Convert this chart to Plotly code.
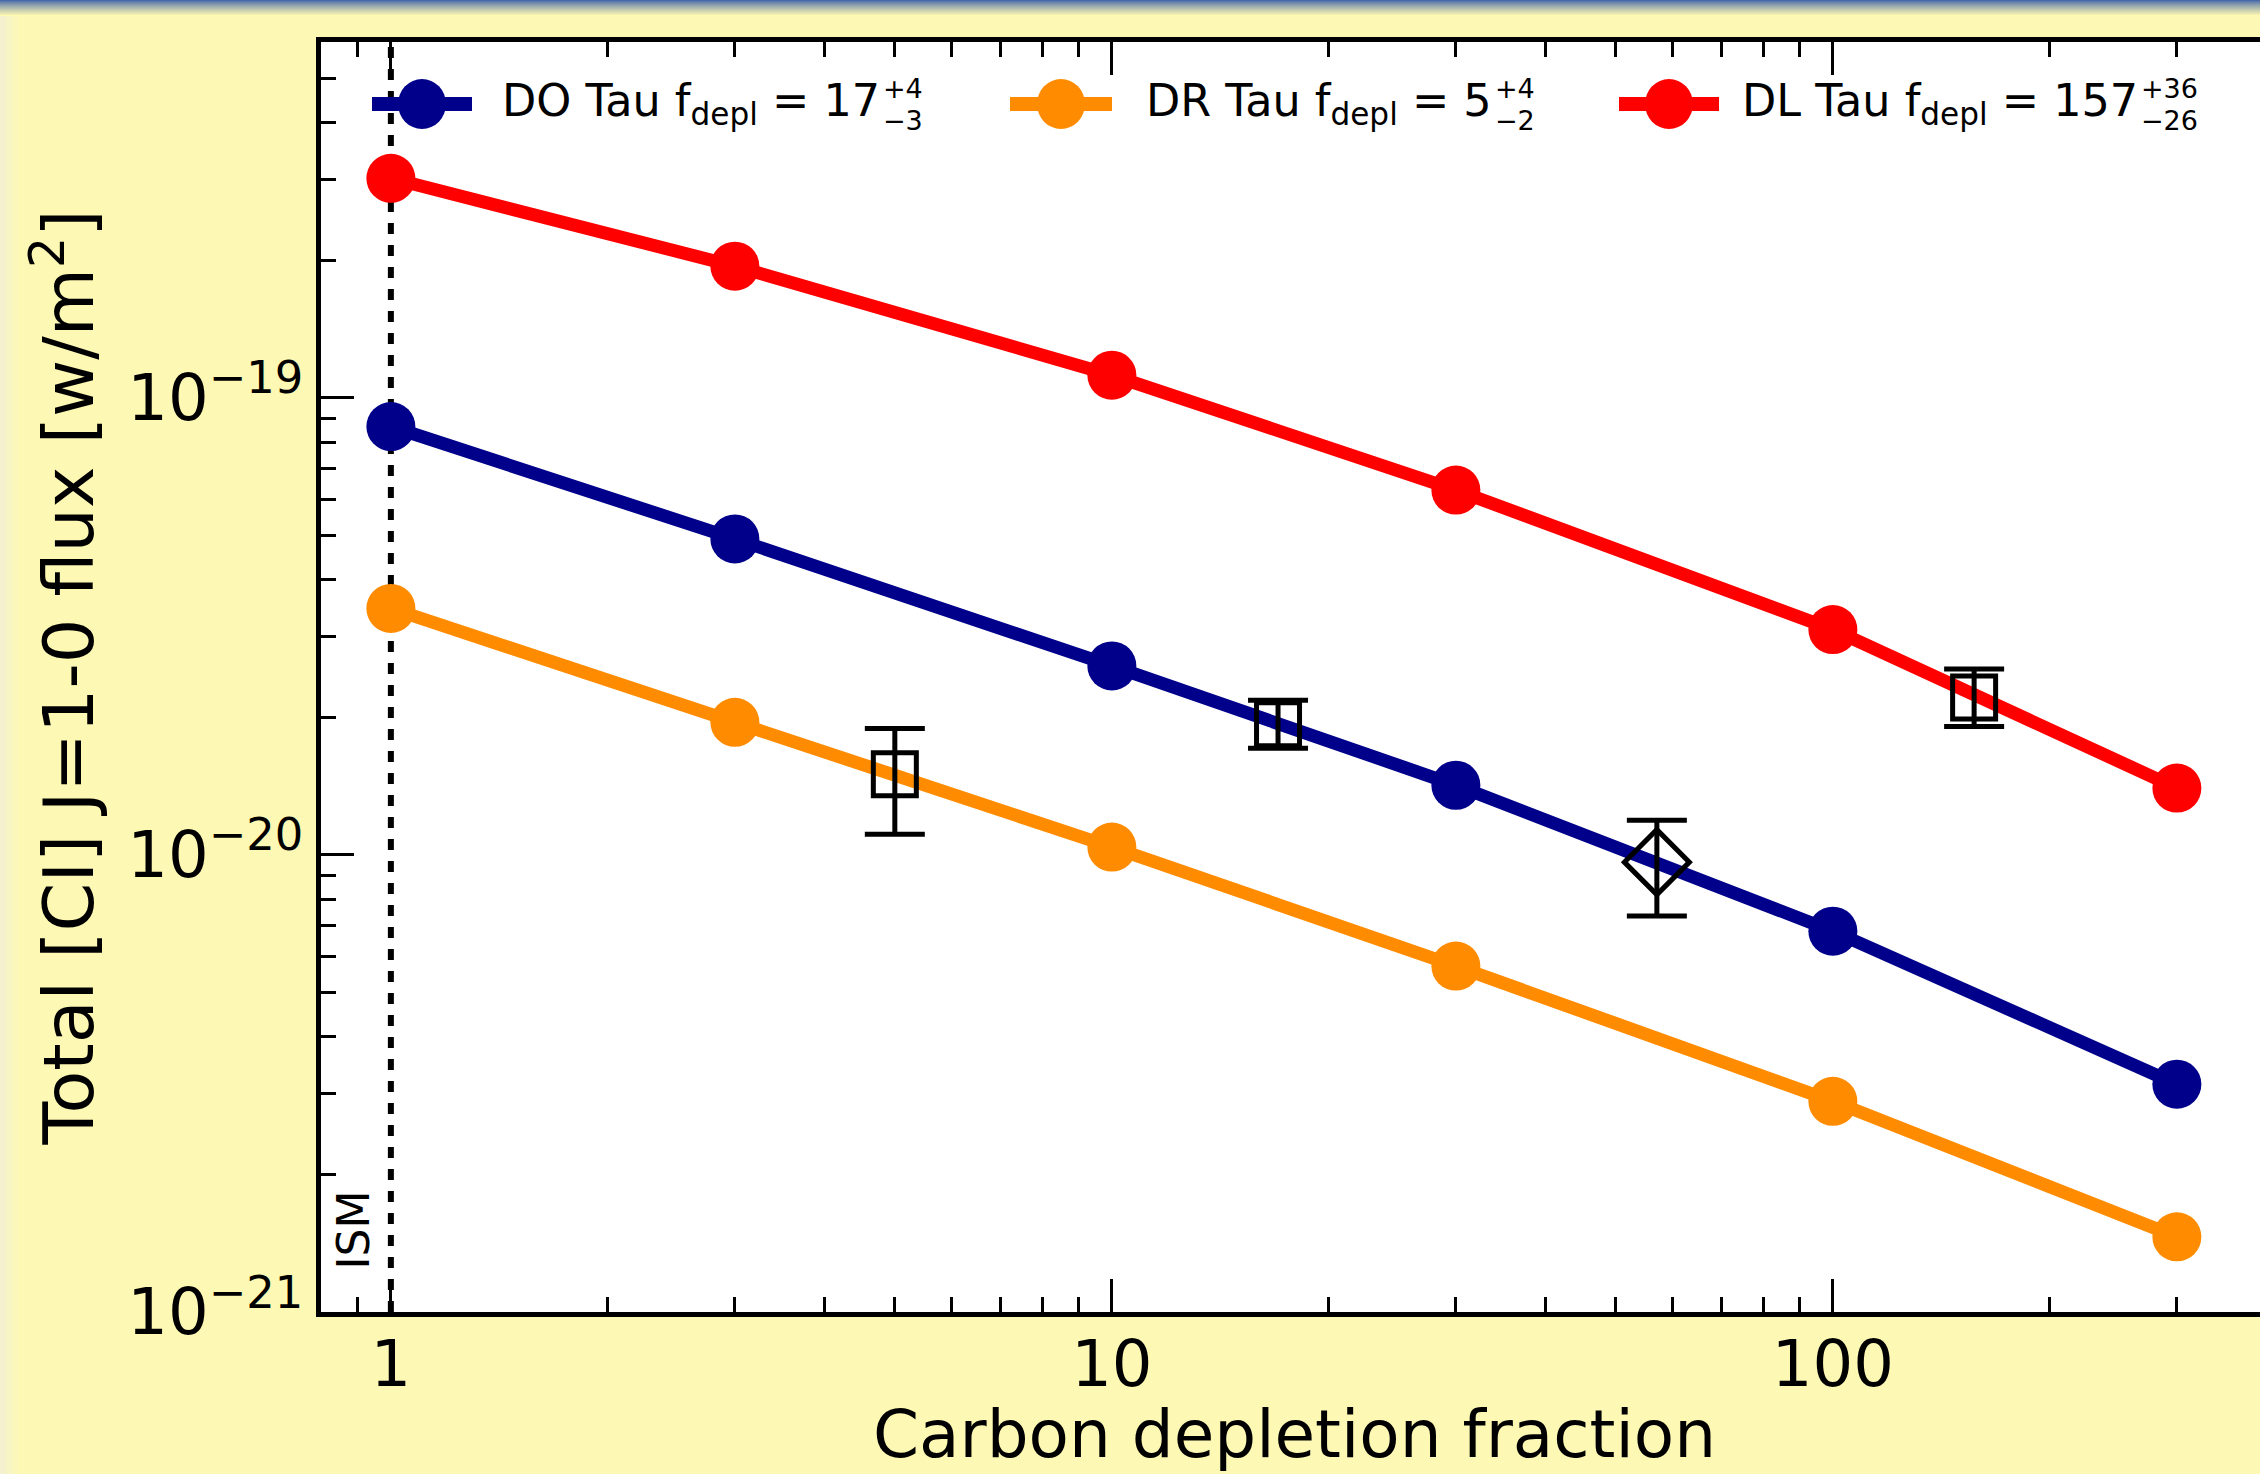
import math
import plotly.graph_objects as go

# ---------------- data ----------------
depletion = [1, 3, 10, 30, 100, 300]
flux_do_tau = [8.65e-20, 4.91e-20, 2.59e-20, 1.42e-20, 6.81e-21, 3.15e-21]
flux_dr_tau = [3.46e-20, 1.95e-20, 1.04e-20, 5.71e-21, 2.89e-21, 1.46e-21]
flux_dl_tau = [3.02e-19, 1.94e-19, 1.12e-19, 6.28e-20, 3.11e-20, 1.40e-20]

obs_depl = [5, 17, 57, 157]
obs_flux = [1.50e-20, 1.93e-20, 9.64e-21, 2.21e-20]
obs_flux_hi = [1.89e-20, 2.18e-20, 1.19e-20, 2.55e-20]
obs_flux_lo = [1.11e-20, 1.71e-20, 7.35e-21, 1.91e-20]
obs_symbols = ["square", "square", "diamond", "square"]

series_names = ["DO Tau", "DR Tau", "DL Tau"]
series_best = ["17", "5", "157"]
series_plus = ["+4", "+4", "+36"]
series_minus = ["−3", "−2", "−26"]
series_colors = ["#00008B", "#FF8C00", "#FF0000"]

x_tickvals = [1, 10, 100]
x_ticktext = ["1", "10", "100"]
y_tickvals = [1e-21, 1e-20, 1e-19]
y_ticktext = ["10<sup>−21</sup>", "10<sup>−20</sup>", "10<sup>−19</sup>"]

ism_label = "ISM"
ism_depletion = 1
x_title = "Carbon depletion fraction"
y_title = "Total [CI] J=1-0 flux [w/m<sup>2</sup>]"

# ---------------- layout geometry ----------------
W, H = 2260, 1474
L, T = 321, 42
BOT = 1312
PW, PH = W - L, BOT - T
FONT = "DejaVu Sans"
BG = "#FDF8B3"

x_lo = math.log10(0.8)
x_hi = x_lo + PW / 721.0
y_lo, y_hi = -21, math.log10(6e-19)

x_minor = [m * 10 ** e for e in range(-1, 3) for m in range(2, 10)
           if x_lo <= math.log10(m * 10 ** e) <= x_hi]
y_minor = [m * 10 ** e for e in range(-21, -18) for m in range(2, 10)
           if m * 10 ** e <= 6e-19]


def px(xp):
    return (xp - L) / PW


def py(yp):
    return (BOT - yp) / PH


fig = go.Figure()

series_flux = [flux_do_tau, flux_dr_tau, flux_dl_tau]
for name, flux, col in zip(series_names, series_flux, series_colors):
    fig.add_trace(go.Scatter(
        x=depletion, y=flux, mode="lines+markers", name=name,
        line=dict(color=col, width=13),
        marker=dict(size=49, color=col, opacity=1),
        showlegend=False,
    ))

fig.add_trace(go.Scatter(
    x=obs_depl, y=obs_flux, mode="markers", name="observed",
    marker=dict(symbol=obs_symbols, size=[43, 43, 50, 43], opacity=1,
                color="rgba(0,0,0,0)",
                line=dict(width=5, color="black")),
    error_y=dict(type="data", symmetric=False,
                 array=[h - f for h, f in zip(obs_flux_hi, obs_flux)],
                 arrayminus=[f - l for f, l in zip(obs_flux, obs_flux_lo)],
                 thickness=5, width=30, color="black"),
    showlegend=False,
))

shapes = []
# slide background: blue gradient band at top, pale strip at left
top_c = (70, 104, 168)
bot_c = (253, 248, 179)
for i in range(16):
    t = (i / 15.0) ** 0.8
    c = tuple(round(top_c[k] + (bot_c[k] - top_c[k]) * t) for k in range(3))
    shapes.append(dict(type="rect", xref="paper", yref="paper",
                       x0=px(0), x1=px(W), y0=py(i + 1), y1=py(i),
                       fillcolor="rgb(%d,%d,%d)" % c, line=dict(width=0),
                       layer="below"))
for i, c in enumerate([(244, 242, 206), (248, 245, 196), (251, 247, 187)]):
    shapes.append(dict(type="rect", xref="paper", yref="paper",
                       x0=px(i * 6), x1=px(i * 6 + 6), y0=py(H), y1=py(16),
                       fillcolor="rgb(%d,%d,%d)" % c, line=dict(width=0),
                       layer="below"))

# ISM reference line
shapes.append(dict(type="line", xref="x", yref="paper", x0=ism_depletion,
                   x1=ism_depletion, y0=0, y1=1,
                   line=dict(color="black", width=6, dash="11px,11px"),
                   layer="below"))

annotations = []
annotations.append(dict(text=ism_label, xref="paper", yref="paper",
                        x=px(353), y=py(1272), xanchor="center",
                        yanchor="bottom", textangle=-90, showarrow=False,
                        font=dict(family=FONT, size=44, color="black")))

# x-axis title (annotation so it can sit close to the bottom edge)
annotations.append(dict(text=x_title, xref="paper", yref="paper",
                        x=px(1294), y=py(1394), xanchor="center",
                        yanchor="top", showarrow=False,
                        font=dict(family=FONT, size=66, color="black")))

# manual legend (line + large marker + label with stacked errors)
leg_line = [(372, 472), (1010, 1112), (1619, 1719)]
leg_script_x = [882, 1494, 2140]
leg_y = 104
for i in range(3):
    x0, x1 = leg_line[i]
    xc = (x0 + x1) / 2
    col = series_colors[i]
    shapes.append(dict(type="line", xref="paper", yref="paper",
                       x0=px(x0), x1=px(x1), y0=py(leg_y), y1=py(leg_y),
                       line=dict(color=col, width=14)))
    shapes.append(dict(type="circle", xref="paper", yref="paper",
                       xsizemode="pixel", ysizemode="pixel",
                       xanchor=px(xc), yanchor=py(leg_y),
                       x0=-24, x1=24, y0=-25, y1=25,
                       fillcolor=col, line=dict(width=0)))
    annotations.append(dict(
        text="%s f<sub>depl</sub> = %s" % (series_names[i], series_best[i]),
        xref="paper", yref="paper", x=px(leg_script_x[i]), y=py(leg_y),
        xanchor="right", yanchor="middle", showarrow=False,
        font=dict(family=FONT, size=44.5, color="black")))
    annotations.append(dict(
        text=series_plus[i], xref="paper", yref="paper",
        x=px(leg_script_x[i]), y=py(88.5), xanchor="left", yanchor="middle",
        borderpad=0, showarrow=False,
        font=dict(family=FONT, size=27, color="black")))
    annotations.append(dict(
        text=series_minus[i], xref="paper", yref="paper",
        x=px(leg_script_x[i]), y=py(120.5), xanchor="left", yanchor="middle",
        borderpad=0, showarrow=False,
        font=dict(family=FONT, size=27, color="black")))

axis_common = dict(
    type="log", showgrid=False, zeroline=False, ticks="inside",
    tickcolor="black", tickwidth=2.5, automargin=False,
)

fig.update_layout(
    width=W, height=H,
    margin=dict(l=L, r=0, t=T, b=H - BOT, pad=0),
    paper_bgcolor=BG, plot_bgcolor="white",
    font=dict(family=FONT, color="black"),
    showlegend=False,
    shapes=shapes, annotations=annotations,
    xaxis=dict(
        **axis_common, range=[x_lo, x_hi],
        showline=True, linecolor="black", linewidth=5, mirror="ticks",
        ticklen=33, tickvals=x_tickvals, ticktext=x_ticktext,
        ticklabelstandoff=-8,
        tickfont=dict(family=FONT, size=64, color="black"),
        minor=dict(ticks="inside", ticklen=15, tickwidth=2.5,
                   tickcolor="black", tickvals=x_minor, showgrid=False),
    ),
    yaxis=dict(
        **axis_common, range=[y_lo, y_hi],
        showline=True, linecolor="black", linewidth=5, mirror=False,
        ticklen=33, tickvals=y_tickvals, ticktext=y_ticktext,
        tickfont=dict(family=FONT, size=64, color="black"),
        minor=dict(ticks="inside", ticklen=15, tickwidth=2.5,
                   tickcolor="black", tickvals=y_minor, showgrid=False),
        title=dict(text=y_title, standoff=12,
                   font=dict(family=FONT, size=70, color="black")),
    ),
    yaxis2=dict(
        **axis_common, range=[y_lo, y_hi], overlaying="y", side="right",
        anchor="x", showline=False, ticklen=26, tickvals=y_tickvals,
        showticklabels=False,
        minor=dict(ticks="inside", ticklen=9, tickwidth=2.5,
                   tickcolor="black", tickvals=y_minor, showgrid=False),
    ),
)

fig.write_html("out.html",
               config={"displayModeBar": False},
               post_script="document.body.style.margin='0';"
                           "document.body.style.overflow='hidden';")
